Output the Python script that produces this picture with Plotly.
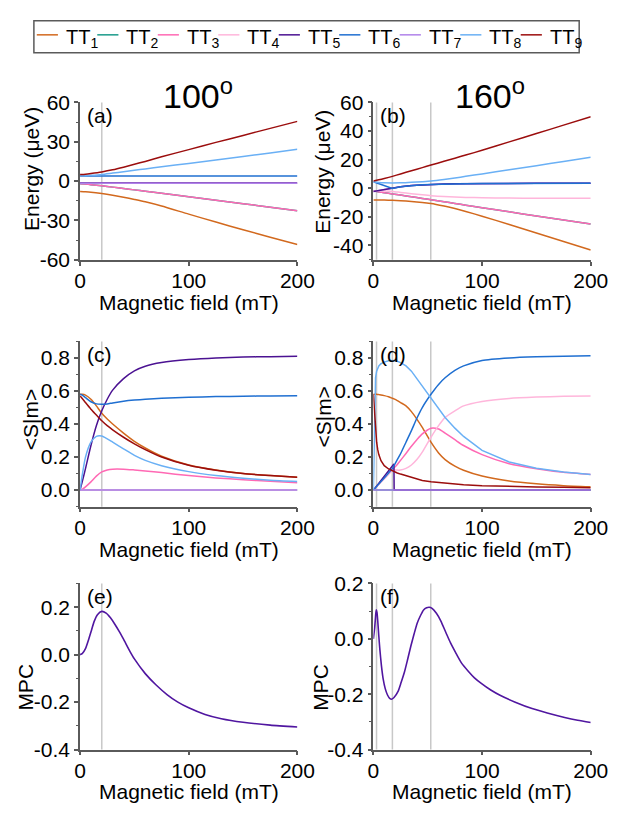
import plotly.graph_objects as go

# ---------------- canvas ----------------
W, H = 627, 815
FONT = "Liberation Sans, Arial, sans-serif"
AXC = "#5a5a5a"
VLC = "#c8c8c8"

# ---------------- series names and colours ----------------
NAMES = ["TT<sub>1</sub>", "TT<sub>2</sub>", "TT<sub>3</sub>", "TT<sub>4</sub>", "TT<sub>5</sub>",
         "TT<sub>6</sub>", "TT<sub>7</sub>", "TT<sub>8</sub>", "TT<sub>9</sub>"]
COLORS = ["#d2691e", "#1a9a8a", "#ff69b4", "#ffb6db", "#4b1292",
          "#1f6fd1", "#b082ea", "#6ab0f5", "#9b0d0d"]
MPC_COLOR = "#5016a0"

# ---------------- (a) energies, 100 deg ----------------
B_A = [0, 5, 10, 20, 30, 40, 50, 60, 75, 100, 125, 150, 175, 200]
A_TT1 = [-8.0, -8.2, -8.5, -9.5, -10.8, -12.3, -14.0, -15.8, -19.0, -25.2, -31.2, -37.1, -42.8, -48.4]
A_TT2 = [-2.0, -2.3, -2.7, -3.6, -4.6, -5.6, -6.7, -7.7, -9.3, -11.9, -14.6, -17.2, -19.9, -22.6]
A_TT3 = [-2.0, -2.3, -2.7, -3.6, -4.6, -5.6, -6.7, -7.7, -9.3, -11.9, -14.6, -17.2, -19.9, -22.6]
A_TT4 = [-1.5, -1.5, -1.5, -1.5, -1.5, -1.5, -1.5, -1.5, -1.5, -1.5, -1.5, -1.5, -1.5, -1.5]
A_TT5 = [-1.4, -1.4, -1.4, -1.4, -1.4, -1.4, -1.4, -1.4, -1.4, -1.4, -1.4, -1.4, -1.4, -1.4]
A_TT6 = [3.8, 3.8, 3.8, 3.8, 3.8, 3.8, 3.8, 3.8, 3.8, 3.8, 3.8, 3.8, 3.8, 3.8]
A_TT7 = [-1.6, -1.6, -1.6, -1.6, -1.6, -1.6, -1.6, -1.6, -1.6, -1.6, -1.6, -1.6, -1.6, -1.6]
A_TT8 = [4.0, 4.1, 4.4, 5.1, 6.1, 7.1, 8.2, 9.3, 10.9, 13.4, 16.0, 18.7, 21.5, 24.3]
A_TT9 = [5.0, 5.3, 5.8, 7.0, 8.6, 10.6, 12.8, 15.0, 18.5, 24.0, 29.5, 34.8, 40.2, 45.5]

# ---------------- (b) energies, 160 deg ----------------
B_B = [0, 5, 10, 17.5, 25, 35, 45, 53, 65, 75, 85, 100, 125, 150, 175, 200]
B_TT1 = [-8.2, -8.2, -8.25, -8.4, -8.7, -9.3, -10.0, -10.6, -12.4, -14.2, -16.2, -19.5, -25.3, -31.3, -37.2, -43.2]
B_TT2 = [-2.0, -2.6, -3.1, -4.0, -4.8, -5.9, -7.1, -8.0, -9.4, -10.6, -11.8, -13.6, -16.5, -19.4, -22.2, -25.0]
B_TT3 = [-2.0, -2.6, -3.1, -4.0, -4.8, -5.9, -7.1, -8.0, -9.4, -10.6, -11.8, -13.6, -16.5, -19.4, -22.2, -25.0]
B_TT4 = [-2.1, -2.0, -2.0, -2.2, -2.9, -3.8, -4.6, -5.2, -5.8, -6.1, -6.4, -6.65, -6.85, -7.0, -7.0, -7.0]
B_TT5 = [-2.3, -1.6, -1.0, -0.1, 1.0, 1.9, 2.4, 2.7, 3.0, 3.1, 3.2, 3.3, 3.4, 3.45, 3.5, 3.5]
B_TT6 = [4.5, 3.2, 1.9, -0.1, 1.0, 1.9, 2.4, 2.7, 3.0, 3.1, 3.2, 3.3, 3.4, 3.45, 3.5, 3.5]
B_TT7 = [-2.3, -1.6, -1.0, -0.1, 1.0, 1.9, 2.4, 2.7, 3.0, 3.1, 3.2, 3.3, 3.4, 3.45, 3.5, 3.5]
B_TT8 = [4.3, 4.0, 3.8, 3.7, 3.8, 4.2, 4.6, 5.0, 6.1, 7.2, 8.3, 10.0, 12.9, 15.8, 18.7, 21.6]
B_TT9 = [5.0, 5.9, 6.8, 8.3, 10.0, 12.2, 14.4, 16.2, 18.8, 21.0, 23.2, 26.5, 32.4, 38.2, 44.1, 50.0]

# ---------------- (c) <S|m>, 100 deg ----------------
B_C = [0, 2, 5, 10, 15, 20, 25, 30, 40, 50, 60, 75, 100, 125, 150, 175, 200]
C_TT1 = [0.58, 0.58, 0.575, 0.55, 0.51, 0.465, 0.43, 0.40, 0.345, 0.295, 0.255, 0.205, 0.152, 0.122, 0.1, 0.088, 0.078]
C_TT2 = [0.0, 0.0, 0.0, 0.0, 0.0, 0.0, 0.0, 0.0, 0.0, 0.0, 0.0, 0.0, 0.0, 0.0, 0.0, 0.0, 0.0]
C_TT3 = [0.0, 0.005, 0.02, 0.05, 0.085, 0.11, 0.122, 0.127, 0.127, 0.122, 0.116, 0.106, 0.088, 0.074, 0.063, 0.053, 0.045]
C_TT4 = [0.0, 0.0, 0.0, 0.0, 0.0, 0.0, 0.0, 0.0, 0.0, 0.0, 0.0, 0.0, 0.0, 0.0, 0.0, 0.0, 0.0]
C_TT5 = [0.0, 0.05, 0.13, 0.27, 0.39, 0.48, 0.55, 0.605, 0.675, 0.722, 0.75, 0.772, 0.79, 0.8, 0.805, 0.808, 0.81]
C_TT6 = [0.58, 0.575, 0.56, 0.535, 0.522, 0.52, 0.522, 0.528, 0.538, 0.545, 0.55, 0.556, 0.562, 0.566, 0.568, 0.57, 0.571]
C_TT7 = [0.0, 0.0, 0.0, 0.0, 0.0, 0.0, 0.0, 0.0, 0.0, 0.0, 0.0, 0.0, 0.0, 0.0, 0.0, 0.0, 0.0]
C_TT8 = [0.0, 0.09, 0.2, 0.29, 0.325, 0.327, 0.31, 0.29, 0.25, 0.21, 0.18, 0.148, 0.112, 0.088, 0.072, 0.06, 0.052]
C_TT9 = [0.57, 0.555, 0.53, 0.49, 0.455, 0.42, 0.39, 0.365, 0.32, 0.28, 0.245, 0.2, 0.15, 0.12, 0.1, 0.088, 0.078]

# ---------------- (d) <S|m>, 160 deg ----------------
B_D = [0, 1, 2, 3, 4, 5, 7, 10, 14, 17.5, 19, 22, 25, 30, 35, 40, 45, 53, 60, 66, 75, 83, 100, 125, 150, 175, 200]
D_TT1 = [0.58, 0.58, 0.58, 0.58, 0.579, 0.578, 0.576, 0.572, 0.565, 0.556, 0.552, 0.542, 0.53, 0.51, 0.475,
         0.43, 0.38, 0.29, 0.225, 0.185, 0.145, 0.12, 0.085, 0.055, 0.038, 0.027, 0.02]
D_TT2 = [0.0, 0.0, 0.0, 0.0, 0.0, 0.0, 0.0, 0.0, 0.0, 0.0, 0.0, 0.0, 0.0, 0.0, 0.0,
         0.0, 0.0, 0.0, 0.0, 0.0, 0.0, 0.0, 0.0, 0.0, 0.0, 0.0, 0.0]
D_TT3 = [0.0, 0.007, 0.014, 0.021, 0.028, 0.035, 0.05, 0.07, 0.098, 0.123, 0.134, 0.155, 0.18, 0.222, 0.265,
         0.305, 0.34, 0.375, 0.37, 0.345, 0.305, 0.27, 0.215, 0.16, 0.13, 0.108, 0.095]
D_TT4 = [0.0, 0.007, 0.014, 0.021, 0.028, 0.035, 0.05, 0.07, 0.098, 0.123, 0.123, 0.121, 0.122, 0.132, 0.152,
         0.185, 0.23, 0.32, 0.39, 0.44, 0.48, 0.51, 0.537, 0.555, 0.563, 0.568, 0.57]
B_D5 = [0, 18.9, 19.1, 200]
D_TT5 = [0.0, 0.158, 0.0, 0.0]
D_TT6 = [0.0, 0.0075, 0.015, 0.022, 0.03, 0.037, 0.052, 0.074, 0.104, 0.13, 0.148, 0.185, 0.22, 0.29, 0.36,
         0.435, 0.5, 0.58, 0.64, 0.68, 0.725, 0.752, 0.785, 0.8, 0.807, 0.811, 0.814]
D_TT7 = [0.0, 0.0, 0.0, 0.0, 0.0, 0.0, 0.0, 0.0, 0.0, 0.0, 0.0, 0.0, 0.0, 0.0, 0.0,
         0.0, 0.0, 0.0, 0.0, 0.0, 0.0, 0.0, 0.0, 0.0, 0.0, 0.0, 0.0]
D_TT8 = [0.0, 0.45, 0.68, 0.72, 0.74, 0.752, 0.765, 0.775, 0.783, 0.785, 0.784, 0.78, 0.772, 0.752, 0.72,
         0.675, 0.63, 0.555, 0.49, 0.44, 0.375, 0.325, 0.24, 0.17, 0.132, 0.11, 0.095]
D_TT9 = [0.58, 0.48, 0.37, 0.29, 0.245, 0.215, 0.178, 0.148, 0.128, 0.116, 0.112, 0.104, 0.097, 0.087, 0.075,
         0.066, 0.058, 0.05, 0.045, 0.041, 0.037, 0.033, 0.027, 0.022, 0.019, 0.017, 0.015]

# ---------------- (e), (f) MPC ----------------
B_E = [0, 2, 5, 8, 10, 13, 16, 20, 24, 28, 32, 36, 40, 46, 50, 60, 70, 80, 90, 100, 115, 130, 150, 175, 200]
MPC_E = [0.0, 0.004, 0.025, 0.065, 0.095, 0.14, 0.168, 0.182, 0.175, 0.155, 0.128, 0.098, 0.065, 0.013, -0.018,
         -0.08, -0.128, -0.168, -0.2, -0.224, -0.252, -0.27, -0.285, -0.297, -0.305]
B_F = [0, 1.2, 2.2, 2.7, 3.3, 4, 5, 6, 7.4, 9, 10.9, 13, 15, 16.8, 19, 22.7, 25.5, 28.6, 31.5, 34.5, 37.5,
       40.4, 43.5, 46.2, 49, 51.3, 54, 58, 62, 66.9, 71, 75.7, 81, 87.5, 93, 99.6, 108, 117, 130, 146, 160,
       176, 188, 200]
MPC_F = [0.0, 0.04, 0.09, 0.105, 0.095, 0.065, 0.01, -0.04, -0.097, -0.145, -0.18, -0.203, -0.215, -0.218,
         -0.212, -0.19, -0.158, -0.12, -0.075, -0.026, 0.018, 0.057, 0.085, 0.104, 0.112, 0.114, 0.11, 0.092,
         0.065, 0.021, -0.015, -0.05, -0.087, -0.118, -0.141, -0.162, -0.185, -0.205, -0.228, -0.252, -0.268,
         -0.284, -0.294, -0.302]

# ---------------- marker fields (mT) ----------------
VLINES_100 = [20]
VLINES_160 = [2.9, 17.5, 52.8]

# ---------------- tick labels ----------------
X_TICKS = [0, 100, 200]
X_TICKTEXT = ["0", "100", "200"]
YT_A = [-60, -30, 0, 30, 60]
YT_A_TEXT = ["-60", "-30", "0", "30", "60"]
YT_A_MINOR = [-45, -15, 15, 45]
YT_B = [-40, -20, 0, 20, 40, 60]
YT_B_TEXT = ["-40", "-20", "0", "20", "40", "60"]
YT_B_MINOR = [-50, -30, -10, 10, 30, 50]
YT_S = [0, 0.2, 0.4, 0.6, 0.8]
YT_S_TEXT = ["0.0", "0.2", "0.4", "0.6", "0.8"]
YT_S_MINOR = [-0.1, 0.1, 0.3, 0.5, 0.7, 0.9]
YT_M = [-0.4, -0.2, 0, 0.2]
YT_M_TEXT = ["-0.4", "-0.2", "0.0", "0.2"]
YT_M_MINOR = [-0.3, -0.1, 0.1, 0.3]


def xp(px):
    """pixel column -> paper fraction"""
    return px / W


def yp(py):
    """pixel row -> paper fraction"""
    return 1 - py / H


COL_L = (77, 303)
COL_R = (382, 608)
ROW_1 = (93, 255)
ROW_2 = (339, 509)
ROW_3 = (588, 759)

ALL = list(range(9))
PANELS = [
    dict(tag="(a)", col=COL_L, row=ROW_1, yr=[-60, 60], yt=YT_A, ytt=YT_A_TEXT, ym=YT_A_MINOR,
         vl=VLINES_100, order=ALL,
         series=[(B_A, A_TT1), (B_A, A_TT2), (B_A, A_TT3), (B_A, A_TT4), (B_A, A_TT5),
                 (B_A, A_TT6), (B_A, A_TT7), (B_A, A_TT8), (B_A, A_TT9)],
         linear=[]),
    dict(tag="(b)", col=COL_R, row=ROW_1, yr=[-50, 60], yt=YT_B, ytt=YT_B_TEXT, ym=YT_B_MINOR,
         vl=VLINES_160, order=[6, 0, 1, 2, 3, 4, 5, 7, 8],
         series=[(B_B, B_TT1), (B_B, B_TT2), (B_B, B_TT3), (B_B, B_TT4), (B_B, B_TT5),
                 (B_B, B_TT6), (B_B, B_TT7), (B_B, B_TT8), (B_B, B_TT9)],
         linear=[4, 5, 6]),
    dict(tag="(c)", col=COL_L, row=ROW_2, yr=[-0.1, 0.9], yt=YT_S, ytt=YT_S_TEXT, ym=YT_S_MINOR,
         vl=VLINES_100, order=ALL,
         series=[(B_C, C_TT1), (B_C, C_TT2), (B_C, C_TT3), (B_C, C_TT4), (B_C, C_TT5),
                 (B_C, C_TT6), (B_C, C_TT7), (B_C, C_TT8), (B_C, C_TT9)],
         linear=[]),
    dict(tag="(d)", col=COL_R, row=ROW_2, yr=[-0.1, 0.9], yt=YT_S, ytt=YT_S_TEXT, ym=YT_S_MINOR,
         vl=VLINES_160, order=ALL,
         series=[(B_D, D_TT1), (B_D, D_TT2), (B_D, D_TT3), (B_D, D_TT4), (B_D5, D_TT5),
                 (B_D, D_TT6), (B_D, D_TT7), (B_D, D_TT8), (B_D, D_TT9)],
         linear=[4, 7, 8]),
    dict(tag="(e)", col=COL_L, row=ROW_3, yr=[-0.4, 0.3], yt=YT_M, ytt=YT_M_TEXT, ym=YT_M_MINOR,
         vl=VLINES_100, mpc=(B_E, MPC_E)),
    dict(tag="(f)", col=COL_R, row=ROW_3, yr=[-0.4, 0.2], yt=YT_M, ytt=YT_M_TEXT, ym=YT_M_MINOR,
         vl=VLINES_160, mpc=(B_F, MPC_F)),
]

fig = go.Figure()
shapes = []
annotations = []
layout_axes = {}

for k, p in enumerate(PANELS):
    sfx = "" if k == 0 else str(k + 1)
    xname, yname = "x" + sfx, "y" + sfx
    tick_font = dict(family=FONT, size=21, color="#000")
    layout_axes["xaxis" + sfx] = dict(
        domain=[xp(p["col"][0]), xp(p["col"][1])], range=[0, 200], anchor=yname,
        tickmode="array", tickvals=X_TICKS, ticktext=X_TICKTEXT, ticks="outside", ticklen=4,
        tickwidth=1.5, tickcolor=AXC, showline=True, linecolor=AXC, linewidth=1.6,
        showgrid=False, zeroline=False, tickfont=tick_font, fixedrange=True, ticklabelstandoff=-3)
    layout_axes["yaxis" + sfx] = dict(
        domain=[yp(p["row"][1]), yp(p["row"][0])], range=p["yr"], anchor=xname,
        tickmode="array", tickvals=p["yt"], ticktext=p["ytt"], ticks="outside", ticklen=4,
        tickwidth=1.5, tickcolor=AXC, showline=True, linecolor=AXC, linewidth=1.6,
        showgrid=False, zeroline=False, tickfont=tick_font, fixedrange=True,
        minor=dict(tickmode="array", tickvals=p["ym"], ticks="outside", ticklen=2.5,
                   tickwidth=1.2, tickcolor=AXC, showgrid=False))

    # grey marker lines at the characteristic fields
    for v in p["vl"]:
        shapes.append(dict(type="line", xref=xname, yref=yname + " domain", x0=v, x1=v, y0=0, y1=1,
                           line=dict(color=VLC, width=1.5), layer="below"))

    if "mpc" in p:
        bx, by = p["mpc"]
        fig.add_trace(go.Scatter(x=bx, y=by, mode="lines", xaxis=xname, yaxis=yname,
                                 line=dict(color=MPC_COLOR, width=1.6, shape="spline", smoothing=0.6),
                                 showlegend=False, hoverinfo="skip"))
    else:
        for i in p["order"]:
            bx, by = p["series"][i]
            shape = "linear" if i in p["linear"] else "spline"
            fig.add_trace(go.Scatter(x=bx, y=by, mode="lines", xaxis=xname, yaxis=yname, name=NAMES[i],
                                     line=dict(color=COLORS[i], width=1.5, shape=shape, smoothing=0.6),
                                     showlegend=False, hoverinfo="skip"))

    # panel letter
    annotations.append(dict(text=p["tag"], xref="paper", yref="paper", x=xp(p["col"][0] + 5),
                            y=yp(p["row"][0] + 13), xanchor="left", yanchor="middle", showarrow=False,
                            font=dict(family=FONT, size=21, color="#000")))
    # x-axis title
    xt_y = {ROW_1: 299, ROW_2: 553, ROW_3: 802}[p["row"]]
    annotations.append(dict(text="Magnetic field (mT)", xref="paper", yref="paper",
                            x=xp((p["col"][0] + p["col"][1]) / 2), y=yp(xt_y), xanchor="center",
                            yanchor="middle", showarrow=False, font=dict(family=FONT, size=21, color="#000")))

# y-axis titles
YTITLES = [("Energy (\u03bceV)", 26.5, 161), ("Energy (\u03bceV)", 329, 164),
           ("<S|m>", 25, 420), ("<S|m>", 330, 417), ("MPC", 20, 695), ("MPC", 327, 695)]
for txt, cx, cy in YTITLES:
    annotations.append(dict(text=txt.replace("<", "&lt;").replace(">", "&gt;"), xref="paper", yref="paper",
                            x=xp(cx), y=yp(cy), xanchor="center", yanchor="middle", textangle=-90,
                            showarrow=False, font=dict(family=FONT, size=21, color="#000")))

# column headings
for txt, cx in [("100<sup>o</sup>", 200), ("160<sup>o</sup>", 503)]:
    annotations.append(dict(text=txt, xref="paper", yref="paper", x=xp(cx), y=yp(84), xanchor="center",
                            yanchor="middle", showarrow=False, font=dict(family=FONT, size=34, color="#000")))

# legend box across the top
LEG_X0, LEG_X1, LEG_Y0, LEG_Y1 = 29, 596, 9, 42
LEG_STEP = 62.9
shapes.append(dict(type="rect", xref="paper", yref="paper", x0=xp(LEG_X0), x1=xp(LEG_X1),
                   y0=yp(LEG_Y1), y1=yp(LEG_Y0), line=dict(color=AXC, width=1.5), fillcolor="rgba(0,0,0,0)"))
for i in range(9):
    lx = 32 + LEG_STEP * i
    shapes.append(dict(type="line", xref="paper", yref="paper", x0=xp(lx), x1=xp(lx + 22),
                       y0=yp(23.5), y1=yp(23.5), line=dict(color=COLORS[i], width=1.5)))
    annotations.append(dict(text=NAMES[i], xref="paper", yref="paper", x=xp(lx + 28), y=yp(27),
                            xanchor="left", yanchor="middle", showarrow=False,
                            font=dict(family=FONT, size=20, color="#000")))

fig.update_layout(
    width=W, height=H, margin=dict(l=0, r=0, t=0, b=0),
    paper_bgcolor="white", plot_bgcolor="white", showlegend=False,
    font=dict(family=FONT, color="#000"),
    shapes=shapes, annotations=annotations, **layout_axes)

fig.write_html("out.html", config={"displayModeBar": False})
